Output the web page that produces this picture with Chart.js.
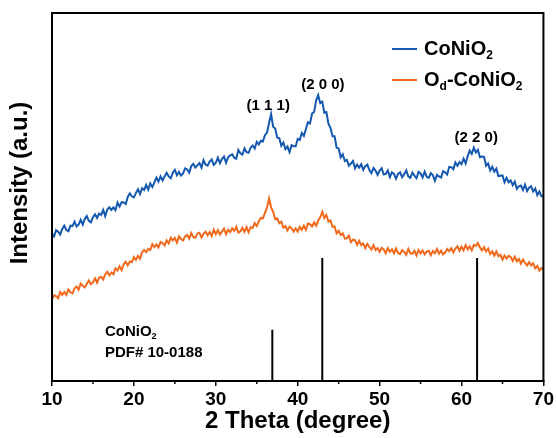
<!DOCTYPE html>
<html>
<head>
<meta charset="utf-8">
<title>XRD CoNiO2</title>
<script src="https://cdn.jsdelivr.net/npm/chart.js"></script>
<style>
  html, body { margin: 0; padding: 0; background: #fff; }
  #xrd { display: block; }
</style>
</head>
<body>
<canvas id="xrd" width="556" height="438"></canvas>
<script>
// 2theta grid of the scans: 10 to 70 degrees, 0.25 degree step
const thetaStart = 10;
const thetaStep = 0.25;

// CoNiO2 (blue) intensity, one row = 2 degrees
const coNiO2 = [
  40.0, 39.3, 41.0, 40.6, 39.8, 41.3, 42.2, 41.0,
  40.7, 42.2, 42.1, 43.3, 42.0, 42.5, 43.8, 42.5,
  44.0, 44.8, 43.5, 43.1, 44.5, 45.3, 44.3, 45.5,
  45.1, 46.5, 44.8, 46.6, 47.2, 46.5, 47.2, 46.4,
  48.5, 47.4, 48.6, 48.5, 48.1, 50.0, 51.0, 50.2,
  49.9, 51.1, 52.1, 50.8, 52.4, 51.9, 53.3, 52.0,
  53.7, 52.7, 54.0, 55.3, 54.2, 55.6, 54.5, 55.6,
  56.6, 55.6, 55.1, 56.6, 57.4, 55.9, 56.8, 55.8,
  56.4, 57.8, 57.5, 56.6, 58.4, 59.0, 58.0, 58.6,
  59.2, 58.0, 60.0, 58.8, 58.5, 59.6, 60.2, 58.7,
  59.3, 60.7, 59.2, 60.3, 61.0, 59.3, 60.8, 61.3,
  61.6, 60.7, 60.4, 62.8, 61.9, 61.5, 63.2, 62.2,
  62.0, 63.4, 64.0, 63.2, 65.0, 64.3, 65.3, 65.1,
  66.8, 67.5, 70.1, 72.5, 69.1, 68.6, 66.1, 66.0,
  63.9, 64.8, 63.0, 63.7, 62.2, 64.1, 63.8, 63.8,
  65.8, 65.5, 67.4, 66.6, 68.5, 70.3, 70.0, 72.7,
  73.1, 76.2, 77.7, 75.5, 75.9, 72.9, 73.1, 69.9,
  68.8, 66.5, 66.5, 63.4, 63.2, 60.8, 61.6, 59.8,
  60.1, 58.5, 59.1, 59.8, 57.8, 58.8, 58.0, 58.9,
  57.4, 58.4, 58.8, 57.3, 56.5, 57.9, 57.2, 56.0,
  57.2, 57.8, 56.1, 56.3, 57.2, 55.4, 56.7, 56.3,
  55.0, 56.3, 56.7, 55.4, 56.2, 57.2, 55.6, 55.2,
  56.6, 55.8, 55.1, 56.8, 56.4, 55.3, 56.9, 55.5,
  55.2, 56.5, 55.9, 54.4, 56.0, 55.6, 55.3, 57.0,
  56.7, 56.1, 58.2, 58.1, 57.5, 59.4, 58.5, 59.5,
  58.9, 60.4, 59.1, 61.1, 62.6, 61.7, 63.4, 62.1,
  62.8, 60.8, 61.0, 60.9, 58.5, 59.1, 57.2, 58.2,
  56.9, 57.7, 55.7, 55.8, 55.9, 54.0, 55.2, 54.0,
  54.5, 53.2, 54.2, 52.2, 52.9, 53.1, 51.9, 53.4,
  51.6, 52.5, 52.9, 51.5, 52.3, 50.5, 51.5, 50.2,
  50.2
];

// Od-CoNiO2 (orange) intensity
const odCoNiO2 = [
  22.2, 23.3, 23.1, 22.5, 24.2, 23.4, 24.2, 23.4,
  24.9, 24.1, 23.8, 25.2, 25.7, 24.8, 26.5, 25.9,
  25.4, 26.4, 27.3, 26.3, 26.8, 27.9, 26.7, 28.1,
  28.3, 27.6, 29.0, 29.7, 28.7, 29.5, 29.0, 30.6,
  30.0, 31.2, 30.1, 31.7, 32.4, 31.4, 32.5, 32.3,
  33.7, 32.9, 34.0, 33.2, 35.0, 35.6, 35.0, 35.9,
  35.6, 37.2, 36.4, 37.1, 36.3, 37.8, 37.5, 36.8,
  38.2, 37.4, 38.9, 38.2, 38.9, 37.6, 39.3, 38.6,
  38.2, 39.3, 39.7, 38.7, 40.2, 39.1, 38.9, 40.1,
  40.3, 39.0, 40.0, 40.6, 39.6, 40.5, 39.4, 41.1,
  39.9, 41.0, 39.8, 40.6, 41.4, 39.9, 41.1, 40.5,
  41.5, 40.8, 41.9, 40.3, 40.7, 41.6, 40.5, 41.8,
  40.4, 41.8, 41.6, 42.9, 42.1, 43.4, 44.3, 44.2,
  45.7, 47.1, 49.6, 47.2, 46.0, 44.0, 44.2, 42.9,
  43.3, 41.7, 42.1, 40.9, 41.9, 41.5, 40.6, 41.5,
  40.6, 41.9, 41.1, 42.2, 41.1, 42.8, 42.6, 42.0,
  43.1, 42.2, 43.6, 44.5, 46.0, 44.3, 45.1, 43.3,
  43.6, 41.9, 42.0, 40.1, 40.8, 39.7, 40.1, 38.7,
  38.8, 39.5, 37.7, 38.4, 38.3, 37.0, 38.1, 36.9,
  37.4, 36.1, 37.3, 36.4, 35.7, 36.9, 35.6, 36.1,
  35.1, 36.2, 35.7, 34.7, 36.1, 35.1, 35.8, 34.7,
  36.0, 34.8, 34.5, 35.6, 35.1, 34.3, 35.9, 34.7,
  34.6, 35.4, 34.1, 35.6, 34.7, 35.5, 34.4, 35.2,
  35.4, 34.2, 35.3, 34.7, 35.9, 34.6, 35.4, 34.4,
  34.9, 35.9, 35.3, 36.1, 34.9, 36.0, 36.6, 35.4,
  36.5, 35.5, 36.9, 35.8, 36.6, 35.5, 37.0, 36.7,
  37.5, 36.3, 35.5, 36.4, 35.2, 36.0, 34.5, 35.2,
  34.1, 35.2, 33.9, 34.3, 33.0, 34.1, 33.3, 34.0,
  33.7, 32.6, 33.8, 32.5, 33.2, 31.9, 33.0, 32.1,
  31.4, 32.3, 31.4, 32.0, 30.6, 31.3, 30.0, 30.7,
  30.2
];

// PDF# 10-0188 reference sticks
const pdfPositions = [36.9, 43.0, 61.9];
const pdfHeights = [13.9, 33.4, 33.4];

// peak labels
const peakLabels = ['(1 1 1)', '(2 0 0)', '(2 2 0)'];
const peakLabelX = [36.4, 43.07, 61.8];
const peakLabelY = [74.7, 80.4, 66.0];

const xTicks = [10, 20, 30, 40, 50, 60, 70];
const xMinorTicks = [15, 25, 35, 45, 55, 65];

const BLUE = '#1558b0';
const ORANGE = '#ef6a1c';
const FONT = '"Liberation Sans", Arial, sans-serif';

function toPoints(arr) {
  return arr.map((v, i) => ({ x: thetaStart + i * thetaStep, y: v }));
}

// vertical sticks, separated by gaps
const stickPoints = [];
pdfPositions.forEach((p, i) => {
  stickPoints.push({ x: p, y: 0 });
  stickPoints.push({ x: p, y: pdfHeights[i] });
  stickPoints.push({ x: p, y: null });
});

// draws text made of pieces, some of them subscript
function drawRich(ctx, parts, x, y, size) {
  let cx = x;
  parts.forEach(p => {
    const s = p.sub ? Math.round(size * 0.62) : size;
    ctx.font = 'bold ' + s + 'px ' + FONT;
    ctx.fillText(p.t, cx, p.sub ? y + size * 0.32 : y);
    cx += ctx.measureText(p.t).width;
  });
}

const decorations = {
  id: 'decorations',
  afterDraw(chart) {
    const ctx = chart.ctx;
    const a = chart.chartArea;
    const xs = chart.scales.x;
    const ys = chart.scales.y;
    ctx.save();

    // frame
    ctx.strokeStyle = '#000';
    ctx.lineWidth = 2;
    ctx.strokeRect(a.left, a.top, a.right - a.left, a.bottom - a.top);

    // minor ticks
    ctx.lineWidth = 1.5;
    xMinorTicks.forEach(v => {
      const px = xs.getPixelForValue(v);
      ctx.beginPath();
      ctx.moveTo(px, a.bottom);
      ctx.lineTo(px, a.bottom + 3);
      ctx.stroke();
    });

    ctx.fillStyle = '#000';
    ctx.textBaseline = 'middle';

    // peak labels
    ctx.textAlign = 'center';
    ctx.font = 'bold 15px ' + FONT;
    peakLabels.forEach((t, i) => {
      ctx.fillText(t, xs.getPixelForValue(peakLabelX[i]), ys.getPixelForValue(peakLabelY[i]));
    });

    // axis titles
    ctx.font = 'bold 24px ' + FONT;
    ctx.fillText('2 Theta (degree)', (a.left + a.right) / 2, 421);
    ctx.save();
    ctx.translate(20, 183);
    ctx.rotate(-Math.PI / 2);
    ctx.fillText('Intensity (a.u.)', 0, 0);
    ctx.restore();

    // reference card text
    ctx.textAlign = 'left';
    const rx = xs.getPixelForValue(16.46);
    drawRich(ctx, [{ t: 'CoNiO' }, { t: '2', sub: true }], rx, ys.getPixelForValue(13.3), 15);
    drawRich(ctx, [{ t: 'PDF# 10-0188' }], rx, ys.getPixelForValue(7.6), 15);

    // legend
    const legend = [
      { color: BLUE, parts: [{ t: 'CoNiO' }, { t: '2', sub: true }], y: 49 },
      { color: ORANGE, parts: [{ t: 'O' }, { t: 'd', sub: true }, { t: '-CoNiO' }, { t: '2', sub: true }], y: 80 }
    ];
    legend.forEach(l => {
      ctx.strokeStyle = l.color;
      ctx.lineWidth = 2;
      ctx.beginPath();
      ctx.moveTo(392, l.y);
      ctx.lineTo(417, l.y);
      ctx.stroke();
      ctx.fillStyle = '#000';
      drawRich(ctx, l.parts, 424, l.y, 20);
    });

    ctx.restore();
  }
};

new Chart(document.getElementById('xrd'), {
  type: 'line',
  data: {
    datasets: [
      {
        label: 'CoNiO2',
        data: toPoints(coNiO2),
        borderColor: BLUE,
        borderWidth: 2,
        pointRadius: 0,
        tension: 0
      },
      {
        label: 'Od-CoNiO2',
        data: toPoints(odCoNiO2),
        borderColor: ORANGE,
        borderWidth: 2,
        pointRadius: 0,
        tension: 0
      },
      {
        label: 'PDF# 10-0188',
        data: stickPoints,
        borderColor: '#000',
        borderWidth: 2,
        pointRadius: 0,
        spanGaps: false
      }
    ]
  },
  options: {
    responsive: false,
    animation: false,
    events: [],
    layout: { padding: { left: 52, top: 13, right: 12, bottom: 0 } },
    plugins: {
      legend: { display: false },
      tooltip: { enabled: false }
    },
    scales: {
      x: {
        type: 'linear',
        min: 10,
        max: 70,
        afterBuildTicks: s => { s.ticks = xTicks.map(v => ({ value: v })); },
        afterFit: s => { s.height = 57; },
        grid: { drawOnChartArea: false, drawTicks: true, tickLength: 5, color: '#000', lineWidth: 1.5 },
        border: { display: true, color: '#000', width: 2 },
        ticks: {
          color: '#000',
          padding: 2,
          maxRotation: 0,
          font: { family: FONT, size: 19, weight: 'bold' }
        }
      },
      y: {
        min: 0,
        max: 100,
        afterFit: s => { s.width = 0; },
        grid: { display: false, drawTicks: false },
        border: { display: true, color: '#000', width: 2 },
        ticks: { display: false }
      }
    }
  },
  plugins: [decorations]
});
</script>
</body>
</html>
